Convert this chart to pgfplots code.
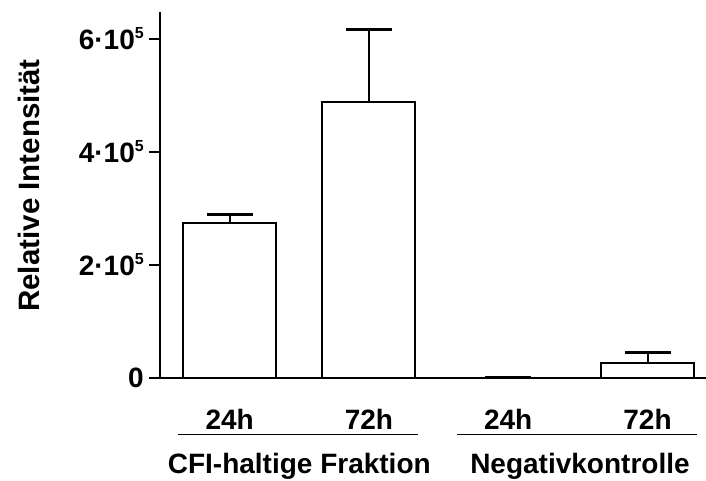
\documentclass[border=0pt]{standalone}
\usepackage{fontspec}
\setmainfont{Liberation Sans}
\usepackage{pgfplots}
\pgfplotsset{compat=1.18}
\newcommand{\supf}[1]{\raisebox{0.4em}{\fontsize{16}{18}\selectfont #1}}
\begin{document}
\begin{tikzpicture}[font=\fontsize{28}{32}\selectfont\bfseries]
\begin{axis}[
  at={(0,0)}, anchor=south west,
  scale only axis, width=546pt, height=366pt,
  xmin=-0.5, xmax=3.42, ymin=0, ymax=6.478e5,
  axis x line*=bottom, axis y line*=left,
  axis line style={line width=2.2pt, -},
  xtick={0,1,2,3}, xticklabels={24h,72h,24h,72h},
  xtick style={draw=none},
  xticklabel style={anchor=north, inner sep=0pt, yshift=-20pt},
  ytick={0,200000,400000,600000},
  scaled y ticks=false,
  yticklabels={0, 2·10\supf{5}, 4·10\supf{5}, 6·10\supf{5}},
  yticklabel style={anchor=east, inner sep=0pt, xshift=-5pt},
  tick align=outside,
  major tick length=11pt,
  ytick style={line width=2.2pt, black},
  ylabel={\fontsize{29.5}{32}\selectfont Relative Intensität},
  ylabel style={at={(axis description cs:-0.22,0.526)}, anchor=base},
  clip=false,
]
\addplot[ybar, bar width=93pt, fill=white, draw=black, line width=2pt,
  error bars/.cd, y dir=plus, y explicit,
  error bar style={line width=2pt, black},
  error mark options={line width=3pt, mark size=23pt, rotate=90, black}]
  coordinates {
    (0,273500) +- (0,16000)
    (1,488500) +- (0,129200)
    (2,500) +- (0,0)
    (3,26500) +- (0,19500)
  };
\draw[line width=1pt] ([yshift=-56pt]axis cs:-0.37,0) -- ([yshift=-56pt]axis cs:1.353,0);
\draw[line width=1pt] ([yshift=-56pt]axis cs:1.633,0) -- ([yshift=-56pt]axis cs:3.356,0);
\node[anchor=base] at ([yshift=-95pt]axis cs:0.5,0) {CFI-haltige Fraktion};
\node[anchor=base] at ([yshift=-95pt]axis cs:2.515,0) {Negativkontrolle};
\end{axis}
\pgfresetboundingbox
\path[use as bounding box] (-160pt,-103pt) rectangle (546pt,378pt);
\end{tikzpicture}
\end{document}
